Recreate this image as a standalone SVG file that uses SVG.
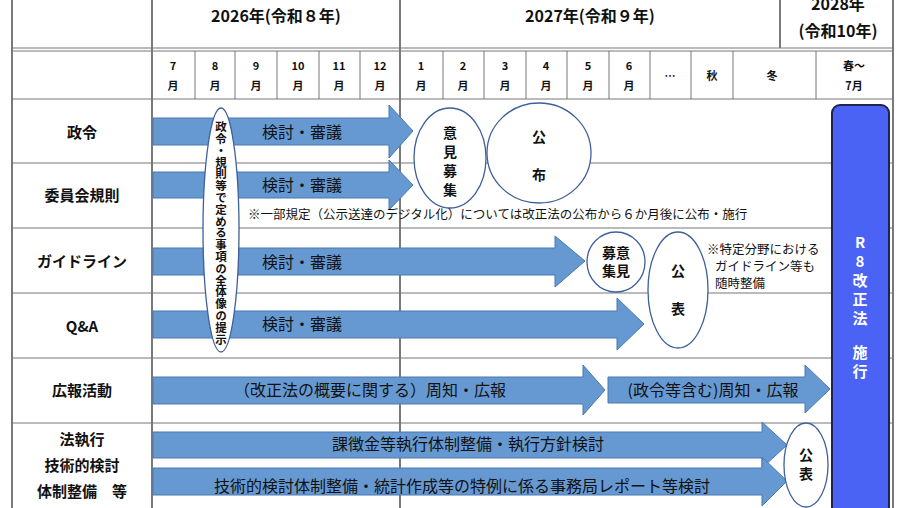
<svg xmlns="http://www.w3.org/2000/svg" width="907" height="508" viewBox="0 0 907 508">
<style>
text{font-family:"Noto Sans CJK JP","Noto Sans",sans-serif;}
.h{font-size:16px;font-weight:bold;text-anchor:middle;fill:#111}
.m{font-size:11px;font-weight:bold;text-anchor:middle;fill:#111}
.l{font-size:15px;font-weight:bold;text-anchor:middle;fill:#111}
.a{fill:#6699d1;stroke:#4a78b0;stroke-width:1}
.t{font-size:16px;fill:#111}
.e{fill:#fff;stroke:#3f5f9a;stroke-width:1.3}
.b{font-size:14px;font-weight:bold;text-anchor:middle;fill:#111}
.n{font-size:12.5px;fill:#111}
.g{stroke:#777;stroke-width:1;fill:none}
.k{stroke:#222;stroke-width:1.2;fill:none}
.w{font-size:15px;font-weight:bold;text-anchor:middle;fill:#fff}
</style>
<rect width="907" height="508" fill="#fff"/>
<g id="grid">
<path class="k" d="M12 0V508M152 0V508M400 0V508M893 0V508M780 0V48"/>
<path class="g" d="M12 48H893M12 51H893M12 99H893M12 163H893M12 228H893M12 293H893M12 358H893M12 423H893"/>
<path class="g" d="M195 51V99M235 51V99M277 51V99M319 51V99M360 51V99M443 51V99M484 51V99M526 51V99M567 51V99M609 51V99M650 51V99M691 51V99M733 51V99M816 51V99"/>
</g>
<g id="header">
<text class="h" x="276" y="22">2026年(令和８年)</text>
<text class="h" x="590" y="22">2027年(令和９年)</text>
<text class="h" x="838" y="10">2028年</text>
<text class="h" x="838" y="37">(令和10年)</text>
<g class="m">
<text x="173" y="70">7</text><text x="173" y="90">月</text>
<text x="215" y="70">8</text><text x="215" y="90">月</text>
<text x="256" y="70">9</text><text x="256" y="90">月</text>
<text x="298" y="70">10</text><text x="298" y="90">月</text>
<text x="339" y="70">11</text><text x="339" y="90">月</text>
<text x="380" y="70">12</text><text x="380" y="90">月</text>
<text x="421" y="70">1</text><text x="421" y="90">月</text>
<text x="463" y="70">2</text><text x="463" y="90">月</text>
<text x="505" y="70">3</text><text x="505" y="90">月</text>
<text x="546" y="70">4</text><text x="546" y="90">月</text>
<text x="588" y="70">5</text><text x="588" y="90">月</text>
<text x="629" y="70">6</text><text x="629" y="90">月</text>
<text x="670" y="80">…</text>
<text x="712" y="80">秋</text>
<text x="772" y="80">冬</text>
<text x="854" y="70">春～</text><text x="854" y="90">7月</text>
</g>
</g>
<g id="labels">
<text class="l" x="82" y="138">政令</text>
<text class="l" x="82" y="201">委員会規則</text>
<text class="l" x="82" y="267">ガイドライン</text>
<text class="l" x="82" y="332">Q&amp;A</text>
<text class="l" x="82" y="396">広報活動</text>
<text class="l" x="82" y="445">法執行</text>
<text class="l" x="82" y="471">技術的検討</text>
<text class="l" x="82" y="497">体制整備　等</text>
</g>
<g id="connectors">
<path class="a" d="M153 118H389V105L413 131L389 158V145H153Z"/>
<path class="a" d="M153 172H389V160L413 185L389 210V198H153Z"/>
<path class="a" d="M153 248H555V236L585 261L555 287V275H153Z"/>
<path class="a" d="M153 311H617V298L644 324L617 350V338H153Z"/>
<path class="a" d="M153 377H583V365L605 390L583 415V404H153Z"/>
<path class="a" d="M608 377H805V365L830 389L805 413V403H608Z"/>
<path class="a" d="M153 432H762V422L787 445L762 468V458H153Z"/>
<path class="a" d="M153 468H762V457L787 481L762 506V495H153Z"/>
<text class="t" x="262" y="138">検討・審議</text>
<text class="t" x="262" y="191">検討・審議</text>
<text class="t" x="262" y="268">検討・審議</text>
<text class="t" x="262" y="330">検討・審議</text>
<text class="t" x="370" y="396" text-anchor="middle">（改正法の概要に関する）周知・広報</text>
<text class="t" x="713" y="396" text-anchor="middle">(政令等含む)周知・広報</text>
<text class="t" x="468" y="450" text-anchor="middle" font-size="15">課徴金等執行体制整備・執行方針検討</text>
<text class="t" x="462" y="492" text-anchor="middle" font-size="14">技術的検討体制整備・統計作成等の特例に係る事務局レポート等検討</text>
</g>
<g id="overview">
<ellipse class="e" cx="221" cy="230" rx="18" ry="122"/>
<text x="221" y="121" font-size="11.5" font-weight="bold" fill="#111" writing-mode="vertical-rl" letter-spacing="0.3">政令・規則等で定める事項の全体像の提示</text>
</g>
<g id="iken1"><ellipse class="e" cx="450" cy="158" rx="36" ry="50"/>
<text class="b" x="450" y="138">意</text><text class="b" x="450" y="157">見</text><text class="b" x="450" y="176">募</text><text class="b" x="450" y="195">集</text></g>
<g id="kofu"><ellipse class="e" cx="539" cy="153" rx="52" ry="50"/>
<text class="b" x="539" y="142">公</text><text class="b" x="539" y="180">布</text></g>
<text id="note1" class="n" x="248" y="219">※一部規定（公示送達のデジタル化）については改正法の公布から６か月後に公布・施行</text>
<g id="iken2"><ellipse class="e" cx="616" cy="262" rx="29" ry="30"/>
<text class="b" x="616" y="258" font-size="13">募意</text><text class="b" x="616" y="276" font-size="13">集見</text></g>
<g id="kohyo1"><ellipse class="e" cx="678" cy="290" rx="30" ry="58"/>
<text class="b" x="678" y="276">公</text><text class="b" x="678" y="314">表</text></g>
<g id="note2" class="n" font-size="12">
<text x="707" y="254">※特定分野における</text><text x="715" y="271">ガイドライン等も</text><text x="715" y="288">随時整備</text></g>
<g id="kohyo2"><ellipse class="e" cx="806" cy="465" rx="22" ry="42"/>
<text class="b" x="806" y="460">公</text><text class="b" x="806" y="479">表</text></g>
<g id="shiko"><rect x="832" y="105" width="57" height="410" rx="8" fill="#4b63f4" stroke="#1c2550" stroke-width="2"/>
<text class="w" x="860" y="248">R</text><text class="w" x="860" y="267">8</text><text class="w" x="860" y="286">改</text><text class="w" x="860" y="305">正</text><text class="w" x="860" y="324">法</text><text class="w" x="860" y="358">施</text><text class="w" x="860" y="377">行</text></g>
</svg>
